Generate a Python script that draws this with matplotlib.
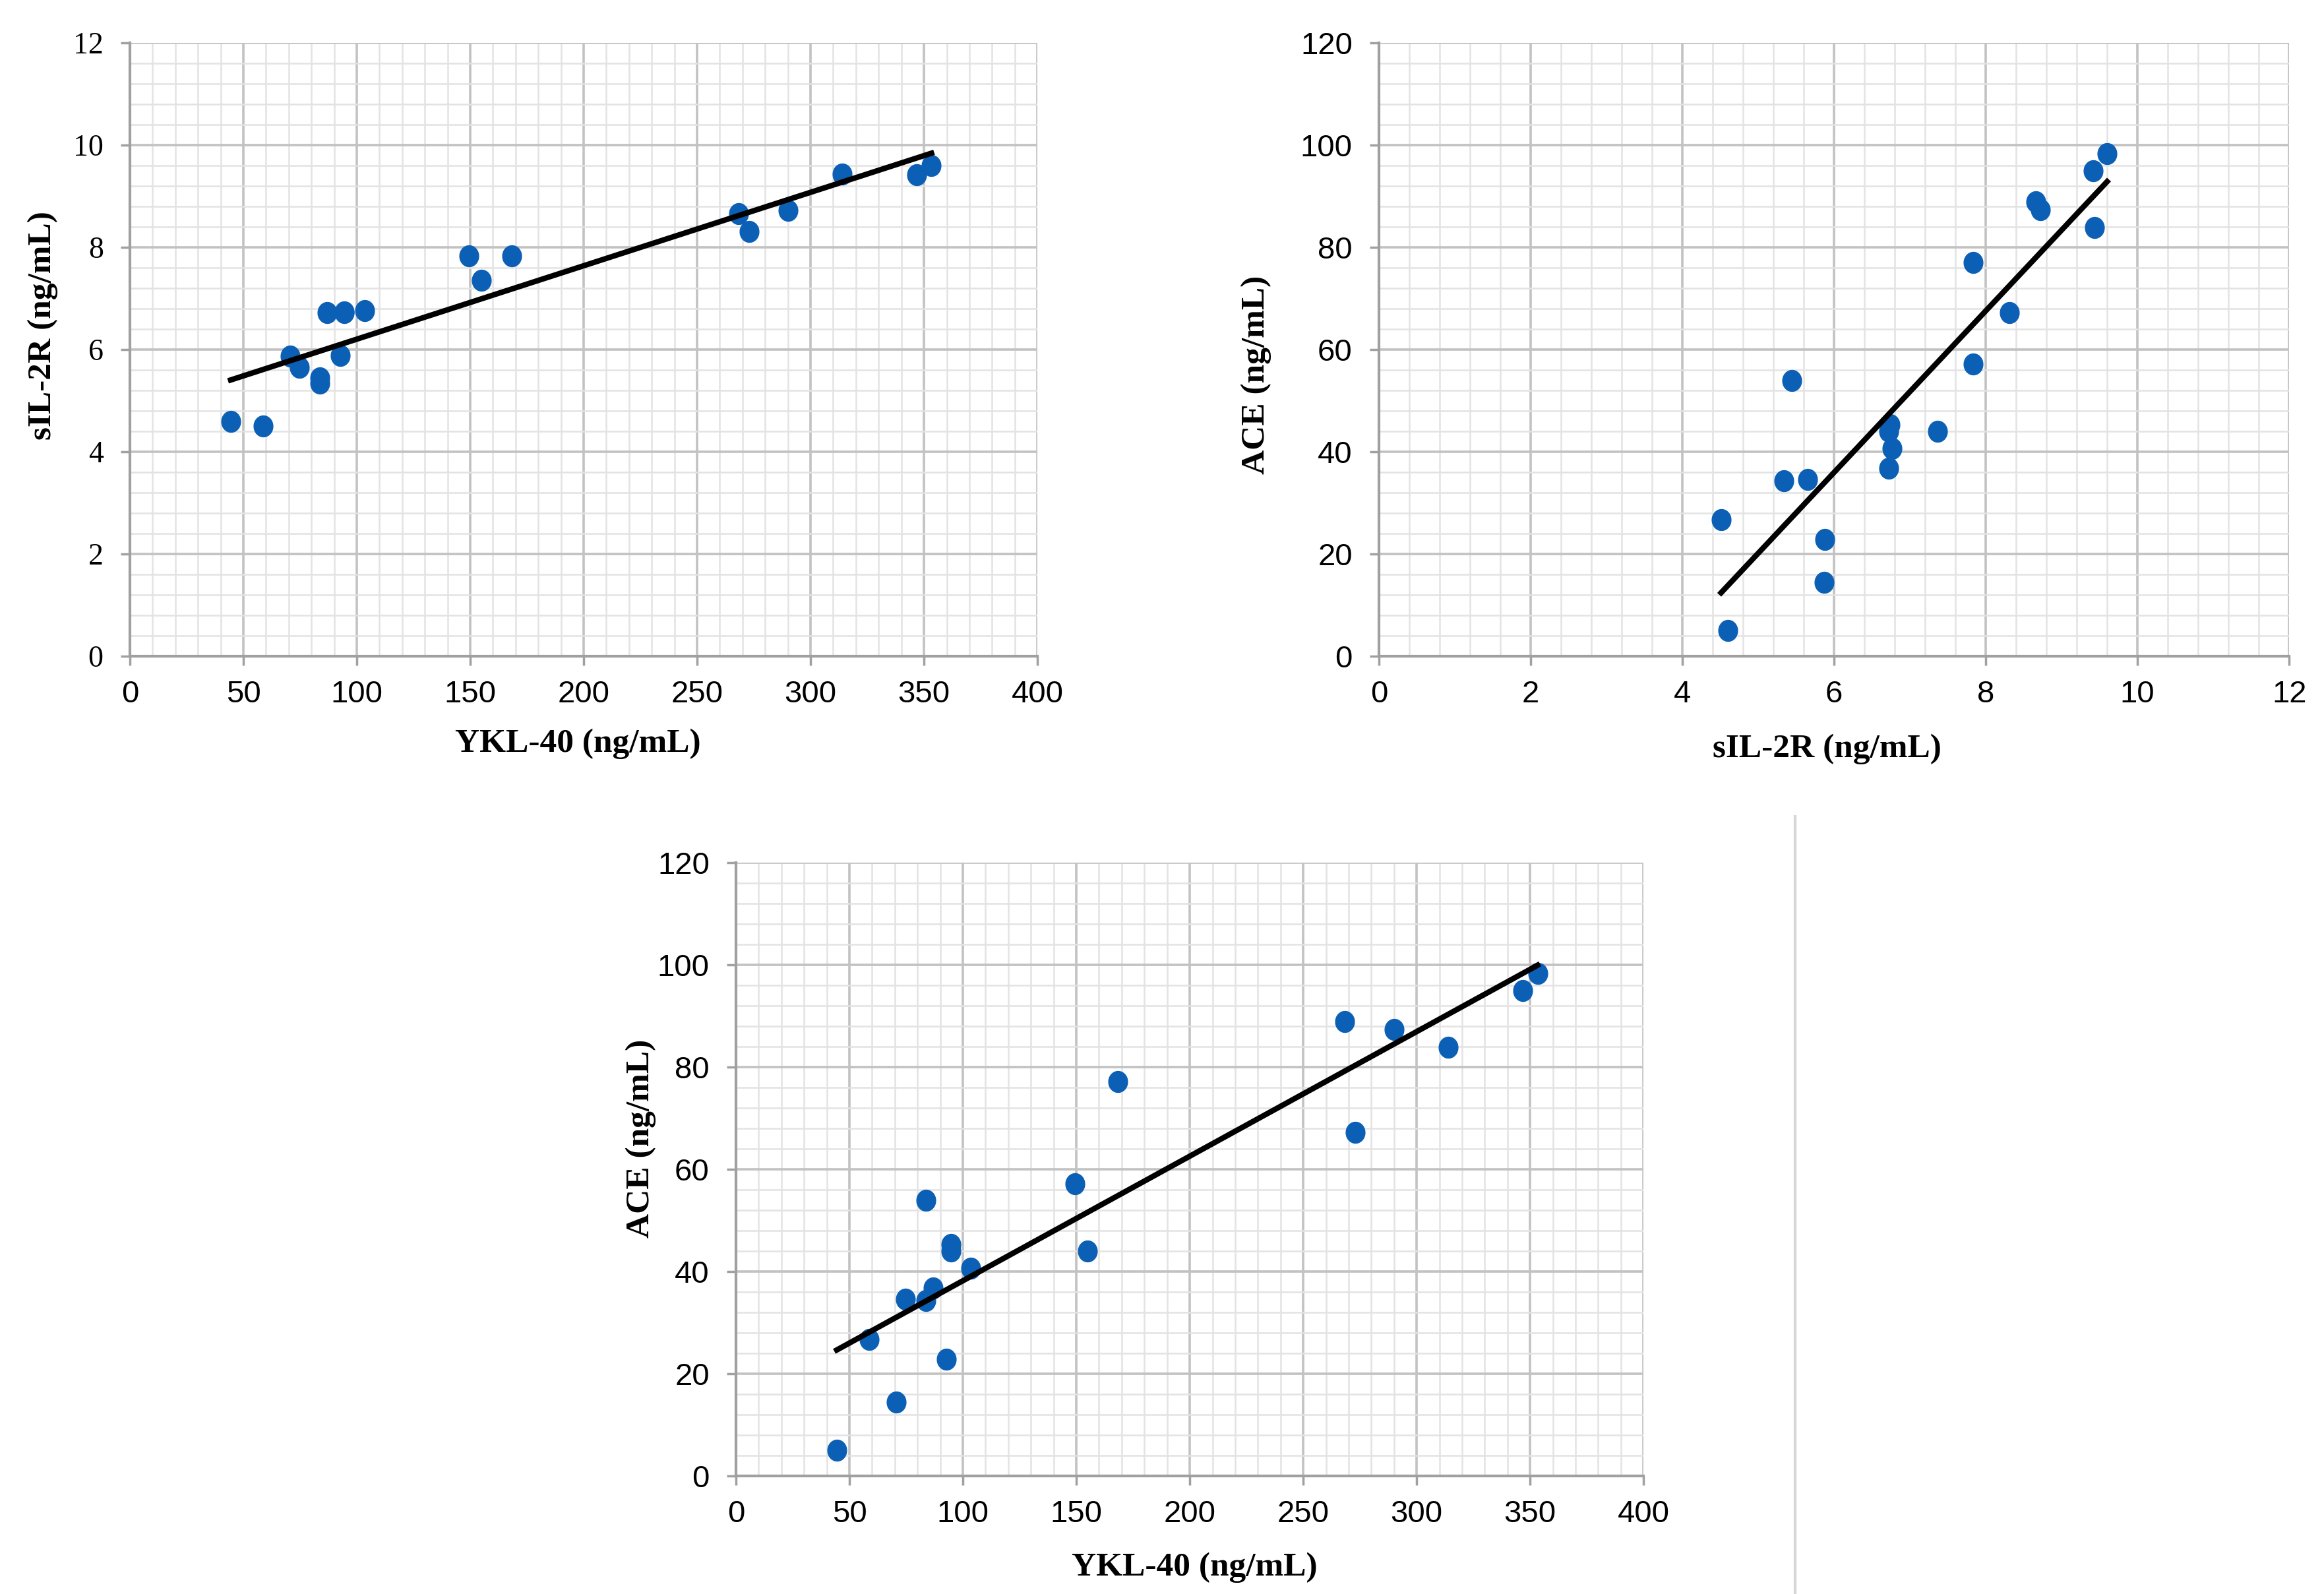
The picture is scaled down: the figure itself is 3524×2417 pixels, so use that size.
import numpy as np
import matplotlib.pyplot as plt
from matplotlib.path import Path
from matplotlib.ticker import MultipleLocator

## values (one row per patient)
ykl40 = [44.4, 58.7, 70.6, 74.8, 83.7, 83.7, 86.8, 92.6, 94.6, 94.6,
         103.5, 149.5, 154.9, 168.2, 268.3, 272.8, 290.1, 314.0, 346.8, 353.3]
sil2r = [4.60, 4.51, 5.87, 5.65, 5.44, 5.34, 6.72, 5.88, 6.74, 6.72,
         6.76, 7.83, 7.36, 7.83, 8.66, 8.31, 8.72, 9.43, 9.42, 9.60]
ace = [5.0, 26.7, 14.5, 34.6, 53.9, 34.3, 36.8, 22.8, 45.3, 44.0,
       40.6, 57.2, 44.0, 77.1, 88.9, 67.2, 87.3, 83.9, 95.0, 98.3]

ykl_ticks = [0, 400, 50]
sil_ticks = [0, 12, 2]
ace_ticks = [0, 120, 20]

BLUE = '#0b5fb5'
GRID_MAJ = '#c2c2c2'
GRID_MIN = '#e3e3e3'
AXIS_GRAY = '#a0a0a0'

plt.rcParams['font.family'] = ['Liberation Sans Narrow', 'Liberation Sans', 'DejaVu Sans']

## slightly tall round dot, like the excel markers
t = np.linspace(0, 2 * np.pi, 64)
DOT = Path(np.column_stack([0.9 * np.cos(t), np.sin(t)]), closed=True)


def panel(ax, x, y, xt, yt, xlabel, ylabel, xlab_pos, ylab_pos, serif_y=False):
    x = np.asarray(x)
    y = np.asarray(y)
    ax.plot(x, y, ls='none', marker=DOT, ms=23, mfc=BLUE, mec=BLUE, zorder=3)

    ## linear trendline over the data range
    k, b = np.polyfit(x, y, 1)
    xs = np.array([x.min(), x.max()])
    ax.plot(xs, k * xs + b, color='black', lw=6, zorder=4)

    ax.set_xlim(xt[0], xt[1])
    ax.set_ylim(yt[0], yt[1])
    ax.xaxis.set_major_locator(MultipleLocator(xt[2]))
    ax.xaxis.set_minor_locator(MultipleLocator(xt[2] / 5))
    ax.yaxis.set_major_locator(MultipleLocator(yt[2]))
    ax.yaxis.set_minor_locator(MultipleLocator(yt[2] / 5))

    ax.grid(which='major', color=GRID_MAJ, lw=2.6)
    ax.grid(which='minor', color=GRID_MIN, lw=1.8)
    ax.set_axisbelow(True)

    for s in ['top', 'right']:
        ax.spines[s].set_visible(False)
    for s in ['left', 'bottom']:
        ax.spines[s].set_color(AXIS_GRAY)
        ax.spines[s].set_linewidth(3)

    ax.tick_params(which='major', length=10, width=2.5, color=AXIS_GRAY,
                   labelsize=34, labelcolor='black')
    ax.tick_params(axis='x', which='major', pad=16)
    ax.tick_params(axis='y', which='major', pad=19)
    ax.tick_params(which='minor', length=0)
    if serif_y:
        ax.yaxis.set_tick_params(labelfontfamily='Liberation Serif', labelsize=33)

    ax.set_xlabel(xlabel, fontfamily='Liberation Serif', fontweight='bold',
                  fontsize=37, va='center')
    ax.set_ylabel(ylabel, fontfamily='Liberation Serif', fontweight='bold',
                  fontsize=37, va='center')
    ax.xaxis.set_label_coords(*xlab_pos)
    ax.yaxis.set_label_coords(*ylab_pos)


fig = plt.figure(figsize=(35.24, 24.17), dpi=100)

ax1 = fig.add_axes([0.0559, 0.5883, 0.3905, 0.3848])
ax2 = fig.add_axes([0.5934, 0.5883, 0.3916, 0.3848])
ax3 = fig.add_axes([0.3167, 0.0741, 0.3905, 0.3848])

panel(ax1, ykl40, sil2r, ykl_ticks, sil_ticks, 'YKL-40 (ng/mL)', 'sIL-2R (ng/mL)',
      (0.494, -0.143), (-0.096, 0.539), serif_y=True)
panel(ax2, sil2r, ace, sil_ticks, ace_ticks, 'sIL-2R (ng/mL)', 'ACE (ng/mL)',
      (0.492, -0.151), (-0.135, 0.459))
panel(ax3, ykl40, ace, ykl_ticks, ace_ticks, 'YKL-40 (ng/mL)', 'ACE (ng/mL)',
      (0.505, -0.149), (-0.105, 0.55))

## thin divider right of the bottom panel
fig.add_artist(plt.Line2D([0.7724, 0.7724], [0.0, 0.488], color='#d6d6d6', lw=3))

fig.savefig('out.png', dpi=100, facecolor='white')
